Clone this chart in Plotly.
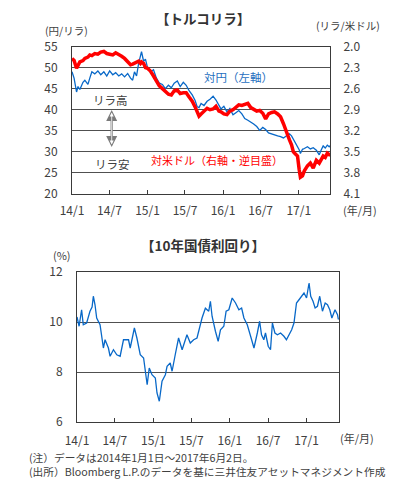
import plotly.graph_objects as go

# page offset: the figure sits 8px inside the page body
OFF = 8
PAGE_W, PAGE_H = 399, 487
W, H = PAGE_W - OFF, PAGE_H - OFF
FONT = "Noto Sans CJK JP"
TXT = "#404040"

# ---------------- data: Turkish lira ----------------
try_dates = [
    "2014-01-01", "2014-01-11", "2014-01-23", "2014-01-30", "2014-02-08", "2014-02-23", "2014-03-04", "2014-03-19",
    "2014-03-28", "2014-04-07", "2014-04-21", "2014-05-06", "2014-05-20", "2014-06-04", "2014-06-18", "2014-07-02",
    "2014-07-17", "2014-07-31", "2014-08-15", "2014-08-29", "2014-09-12", "2014-09-27", "2014-10-11", "2014-10-21",
    "2014-10-30", "2014-11-09", "2014-11-19", "2014-11-28", "2014-12-03", "2014-12-13", "2014-12-22", "2015-01-01",
    "2015-01-15", "2015-01-30", "2015-02-13", "2015-02-27", "2015-03-14", "2015-03-28", "2015-04-12", "2015-04-26",
    "2015-05-10", "2015-05-25", "2015-06-08", "2015-06-23", "2015-07-07", "2015-07-21", "2015-08-05", "2015-08-19",
    "2015-08-29", "2015-09-07", "2015-09-17", "2015-10-01", "2015-10-16", "2015-10-30", "2015-11-14", "2015-11-28",
    "2015-12-12", "2015-12-22", "2016-01-05", "2016-01-20", "2016-02-03", "2016-02-18", "2016-03-03", "2016-03-17",
    "2016-04-01", "2016-04-15", "2016-04-30", "2016-05-14", "2016-05-28", "2016-06-12", "2016-06-26", "2016-07-11",
    "2016-07-25", "2016-08-08", "2016-08-23", "2016-09-06", "2016-09-21", "2016-10-05", "2016-10-19", "2016-11-03",
    "2016-11-17", "2016-11-27", "2016-12-06", "2016-12-16", "2016-12-26", "2017-01-03", "2017-01-09", "2017-01-19",
    "2017-01-28", "2017-02-12", "2017-02-26", "2017-03-12", "2017-03-27", "2017-04-10", "2017-04-20", "2017-04-29",
    "2017-05-09", "2017-05-19", "2017-05-28", "2017-06-02",
]
try_jpy = [
    49.0, 47.5, 44.2, 45.5, 44.8, 46.5, 47.0, 46.0, 47.5, 49.0, 48.5, 49.2, 48.3, 49.0, 48.0, 49.2,
    48.3, 48.8, 48.0, 48.5, 47.8, 48.6, 47.5, 47.0, 49.0, 48.0, 51.0, 53.0, 53.8, 51.5, 52.0, 50.0,
    49.0, 49.5, 47.5, 46.3, 46.0, 45.0, 45.8, 45.2, 46.3, 46.8, 45.5, 46.5, 45.8, 44.5, 43.5, 42.2,
    40.7, 40.5, 41.5, 41.0, 42.0, 42.5, 43.2, 42.3, 41.0, 40.2, 40.8, 39.5, 40.3, 38.8, 39.3, 39.8,
    39.0, 37.9, 37.5, 37.1, 36.6, 36.0, 35.1, 35.8, 35.3, 34.5, 34.2, 34.0, 33.8, 33.6, 33.3, 33.8,
    34.3, 33.8, 33.0, 32.3, 31.5, 30.5, 29.6, 30.6, 30.8, 31.2, 30.7, 31.0, 30.4, 29.3, 30.5, 31.4,
    30.9, 31.6, 31.2, 31.5,
]
usd_try = [
    2.17, 2.20, 2.31, 2.27, 2.22, 2.20, 2.17, 2.15, 2.12, 2.13, 2.10, 2.11, 2.08, 2.07, 2.10, 2.11,
    2.12, 2.09, 2.11, 2.14, 2.17, 2.21, 2.26, 2.25, 2.24, 2.22, 2.21, 2.24, 2.22, 2.24, 2.30, 2.31,
    2.35, 2.42, 2.50, 2.56, 2.60, 2.64, 2.68, 2.69, 2.63, 2.62, 2.67, 2.66, 2.66, 2.72, 2.78, 2.86,
    2.94, 2.99, 2.96, 2.92, 2.88, 2.90, 2.89, 2.85, 2.92, 2.93, 2.96, 2.97, 2.92, 2.90, 2.86, 2.83,
    2.84, 2.82, 2.81, 2.87, 2.89, 2.92, 2.91, 2.95, 3.03, 2.96, 2.94, 2.93, 2.96, 3.00, 3.10, 3.24,
    3.33, 3.40, 3.50, 3.53, 3.56, 3.75, 3.86, 3.84, 3.77, 3.70, 3.66, 3.73, 3.62, 3.66, 3.60, 3.56,
    3.58, 3.52, 3.54, 3.53,
]

# ---------------- data: 10y government bond yield ----------------
bond_dates = [
    "2014-01-01", "2014-01-11", "2014-01-23", "2014-01-31", "2014-02-16", "2014-03-04", "2014-03-14", "2014-03-20",
    "2014-03-28", "2014-04-05", "2014-04-21", "2014-04-29", "2014-05-07", "2014-05-15", "2014-05-31", "2014-06-08",
    "2014-06-24", "2014-07-10", "2014-07-26", "2014-08-11", "2014-09-04", "2014-09-12", "2014-10-02", "2014-10-14",
    "2014-10-30", "2014-11-15", "2014-11-26", "2014-12-02", "2014-12-12", "2014-12-25", "2015-01-10", "2015-01-18",
    "2015-01-29", "2015-02-11", "2015-02-27", "2015-03-07", "2015-03-22", "2015-03-31", "2015-04-15", "2015-05-01",
    "2015-05-18", "2015-06-10", "2015-06-26", "2015-07-12", "2015-07-28", "2015-08-21", "2015-09-06", "2015-09-22",
    "2015-09-30", "2015-10-08", "2015-10-24", "2015-11-06", "2015-11-17", "2015-12-03", "2015-12-14", "2015-12-27",
    "2016-01-12", "2016-01-28", "2016-02-13", "2016-02-26", "2016-03-08", "2016-03-24", "2016-04-09", "2016-04-25",
    "2016-05-11", "2016-05-22", "2016-05-31", "2016-06-11", "2016-06-19", "2016-07-02", "2016-07-13", "2016-07-22",
    "2016-08-03", "2016-08-15", "2016-08-30", "2016-09-15", "2016-09-27", "2016-10-09", "2016-10-22", "2016-11-02",
    "2016-11-14", "2016-11-26", "2016-12-09", "2016-12-20", "2017-01-01", "2017-01-13", "2017-01-21", "2017-02-01",
    "2017-02-11", "2017-02-22", "2017-03-05", "2017-03-18", "2017-03-31", "2017-04-11", "2017-04-22", "2017-05-02",
    "2017-05-17", "2017-05-29", "2017-06-02",
]
bond_yield = [
    10.20, 9.83, 10.49, 9.89, 9.96, 10.43, 10.60, 11.03, 10.69, 10.16, 9.89, 9.49, 8.96, 9.29, 8.96, 8.63,
    8.89, 8.69, 8.63, 9.29, 9.29, 8.96, 9.76, 9.36, 8.69, 8.56, 7.89, 7.49, 8.16, 7.89, 7.76, 7.16,
    6.83, 7.63, 7.89, 8.23, 8.36, 8.03, 8.69, 9.36, 8.89, 9.49, 9.16, 9.29, 9.36, 10.16, 10.55, 10.43,
    10.83, 10.23, 9.63, 9.23, 9.69, 9.83, 10.43, 10.49, 10.96, 10.76, 10.49, 10.56, 10.16, 9.89, 9.43, 8.96,
    9.56, 10.03, 9.49, 9.29, 9.56, 9.03, 8.89, 9.96, 9.56, 9.49, 9.56, 9.43, 9.29, 9.49, 9.69, 9.96,
    10.76, 10.89, 11.03, 11.16, 10.96, 11.56, 11.03, 10.83, 10.56, 10.63, 11.03, 10.43, 10.76, 10.69, 10.49, 10.16,
    10.49, 10.29, 10.10,
]

# ---------------- axis tick labels ----------------
x_tick_vals = ["2014-01-01", "2014-07-01", "2015-01-01", "2015-07-01", "2016-01-01", "2016-07-01", "2017-01-01"]
x_tick_text = ["14/1", "14/7", "15/1", "15/7", "16/1", "16/7", "17/1"]
jpy_ticks = [20, 25, 30, 35, 40, 45, 50, 55]
usd_ticks = [2.0, 2.3, 2.6, 2.9, 3.2, 3.5, 3.8, 4.1]
usd_tick_text = ["2.0", "2.3", "2.6", "2.9", "3.2", "3.5", "3.8", "4.1"]
bond_ticks = [6, 8, 10, 12]


def px(x):
    return (x - OFF) / W


def py(y):
    return 1 - (y - OFF) / H


BLUE = "#0868c8"
RED = "#ff0000"
AX = "#3a3a3a"
GRID = "#505050"
CLEAR = "rgba(0,0,0,0)"

fig = go.Figure()
fig.add_trace(go.Scatter(x=try_dates, y=try_jpy, mode="lines", line=dict(color=BLUE, width=1.3),
                         xaxis="x", yaxis="y", showlegend=False))
fig.add_trace(go.Scatter(x=try_dates, y=usd_try, mode="lines", line=dict(color=RED, width=3.5),
                         xaxis="x", yaxis="y2", showlegend=False))
fig.add_trace(go.Scatter(x=bond_dates, y=bond_yield, mode="lines", line=dict(color=BLUE, width=1.3),
                         xaxis="x2", yaxis="y3", showlegend=False))

tickfont = dict(family=FONT, size=12, color=TXT)
common_x = dict(type="date", tickvals=x_tick_vals, ticktext=x_tick_text, ticks="inside", ticklen=4,
                tickcolor=AX, showline=True, linecolor=AX, linewidth=1, mirror=True, showgrid=False,
                zeroline=False, tickfont=tickfont, fixedrange=True, automargin=False)
common_y = dict(showline=True, linecolor=AX, linewidth=1, mirror=True, ticks="outside", ticklen=11,
                tickcolor=CLEAR, zeroline=False, tickfont=tickfont, automargin=False, fixedrange=True)

fig.update_layout(
    template="none",
    width=W, height=H, autosize=False,
    margin=dict(l=0, r=0, t=0, b=0, pad=0),
    paper_bgcolor="white", plot_bgcolor="white",
    font=dict(family=FONT, color=TXT, size=12),
    showlegend=False,
    xaxis=dict(common_x, domain=[px(72), px(330)], range=["2014-01-01", "2017-06-01"], anchor="y",
               ticklabelstandoff=6),
    yaxis=dict(common_y, domain=[py(194), py(46.5)], range=[20, 55], tickvals=jpy_ticks, showgrid=True,
               gridcolor=GRID, gridwidth=1, anchor="x"),
    yaxis2=dict(overlaying="y", side="right", range=[4.1, 2.0], tickvals=usd_ticks, ticktext=usd_tick_text,
                showgrid=False, showline=False, ticks="outside", ticklen=10, tickcolor=CLEAR,
                zeroline=False, tickfont=tickfont, anchor="x", automargin=False, fixedrange=True),
    xaxis2=dict(common_x, domain=[px(77), px(339)], range=["2014-01-01", "2017-06-05"], anchor="y3",
                ticklabelstandoff=8),
    yaxis3=dict(common_y, domain=[py(422), py(272)], range=[6, 12], tickvals=bond_ticks, showgrid=True,
                gridcolor=GRID, gridwidth=1, anchor="x2"),
)


def txt(x, y, s, size=12, color=TXT, bold=False, xanchor="center"):
    fig.add_annotation(x=px(x), y=py(y), xref="paper", yref="paper", text=("<b>%s</b>" % s) if bold else s,
                       showarrow=False, xanchor=xanchor, yanchor="middle", align="left",
                       font=dict(family=FONT, size=size, color=color))


txt(203, 18, "【トルコリラ】", size=13.5, color="#333333", bold=True)
txt(66, 31, "(円/リラ)", size=10.5)
txt(348, 25, "(リラ/米ドル)", size=10.5)
txt(360, 210, "(年/月)", size=11)
txt(239, 77, "対円（左軸）", size=11.5, color="#1f6fc0")
txt(217, 160, "対米ドル（右軸・逆目盛）", size=11, color=RED)
txt(111, 100, "リラ高", size=11.5)
txt(112, 164, "リラ安", size=11.5)

# double-headed hollow arrow between リラ高 / リラ安
fig.add_annotation(x=px(111.7), y=py(110), ax=0, ay=38.5, xref="paper", yref="paper",
                   axref="pixel", ayref="pixel", text="", showarrow=True, arrowhead=2, arrowside="end+start",
                   arrowsize=1, arrowwidth=2.2, arrowcolor="#7a7a7a")
fig.add_annotation(x=px(111.7), y=py(112.5), ax=0, ay=33.5, xref="paper", yref="paper",
                   axref="pixel", ayref="pixel", text="", showarrow=True, arrowhead=2, arrowside="end+start",
                   arrowsize=1, arrowwidth=0.8, arrowcolor="#ffffff")

txt(203, 245, "【10年国債利回り】", size=13.5, color="#333333", bold=True)
txt(62, 255, "(%)", size=11)
txt(357, 438, "(年/月)", size=11)
txt(27, 464, "(注）データは2014年1月1日～2017年6月2日。<br>(出所）Bloomberg L.P.のデータを基に三井住友アセットマネジメント作成",
    size=10.7, xanchor="left")

fig.write_html("out.html")
